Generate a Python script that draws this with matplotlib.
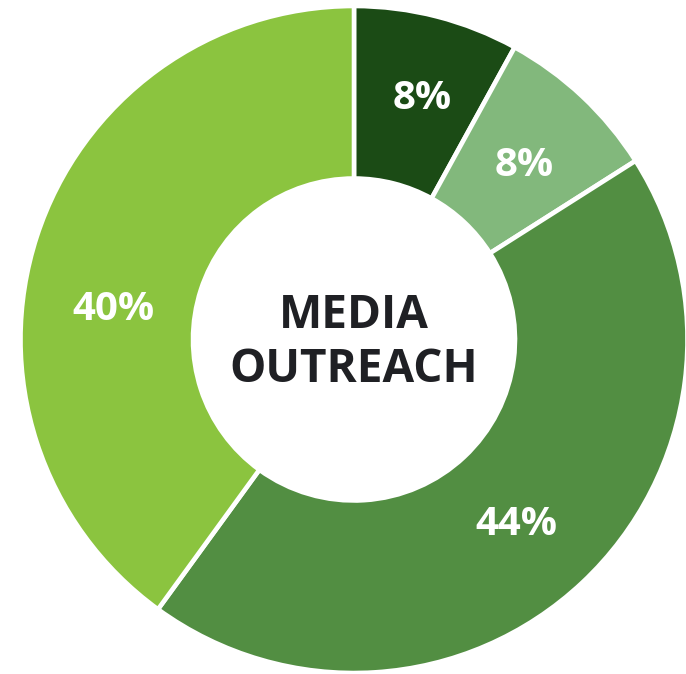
import numpy as np
import matplotlib
matplotlib.use("Agg")
import matplotlib.pyplot as plt

labels = ["A", "B", "C", "D"]
values = [8, 8, 44, 40]
colors = ["#1b4b15", "#82b87c", "#528e42", "#8bc43f"]
center_title = "MEDIA\nOUTREACH"

plt.rcParams['font.family'] = ['Open Sans', 'DejaVu Sans']

W, H = 686, 674
fig = plt.figure(figsize=(W / 100, H / 100), dpi=100)
ax = fig.add_axes([0, 0, 1, 1])

cx, cy = 354, H - 339.5
R = 333.5
inner = 161

wedges, _ = ax.pie(values, colors=colors, startangle=90, counterclock=False,
                   center=(cx, cy), radius=R,
                   wedgeprops=dict(width=R - inner, edgecolor="white", linewidth=3.3))

# label placement tweaks (angle offset in degrees, radius offset in px)
total = sum(values)
angle_shift = [-1.5, -1.1, -2, 11]
radius_shift = [3, -3.5, -1, -5]
start = 90.0
for i, v in enumerate(values):
    span = 360.0 * v / total
    mid = start - span / 2 + angle_shift[i]
    r = (R + inner) / 2 + radius_shift[i]
    x = cx + r * np.cos(np.deg2rad(mid))
    y = cy + r * np.sin(np.deg2rad(mid))
    ax.text(x, y, f"{v}%", ha="center", va="center", color="white",
            fontsize=29, fontweight="bold")
    start -= span

ax.text(cx, cy - 3, center_title, ha="center", va="center", color="#1f2024",
        fontsize=33, fontweight="bold", linespacing=1.22)

ax.set_xlim(0, W)
ax.set_ylim(0, H)
ax.set_aspect("equal")
ax.axis("off")

fig.savefig("out.png", dpi=100)
